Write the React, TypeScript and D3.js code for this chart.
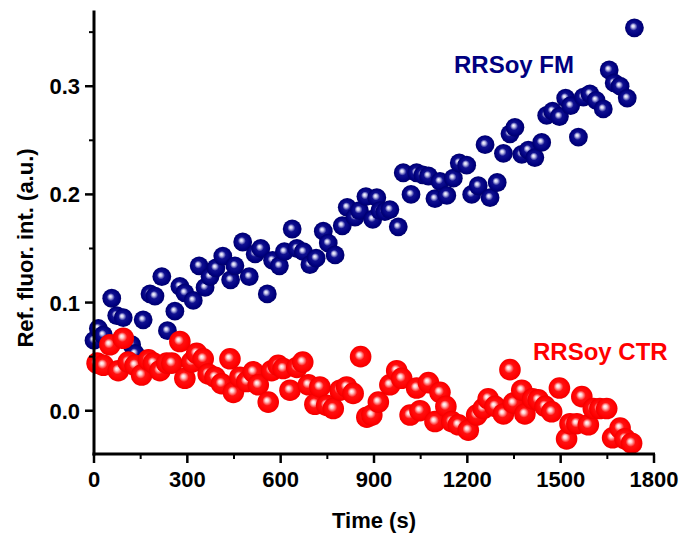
import React from "react";
import * as d3 from "d3";

const fmTime = [0, 14, 30, 57, 73, 94, 121, 132, 158, 180, 196, 218, 236, 260, 276, 292, 319, 338, 357, 373, 392, 414, 439, 453, 478, 499, 518, 536, 557, 574, 596, 612, 637, 652, 673, 694, 714, 737, 753, 775, 798, 814, 839, 853, 874, 896, 909, 919, 935, 951, 978, 994, 1019, 1037, 1057, 1075, 1096, 1112, 1134, 1155, 1174, 1198, 1214, 1235, 1257, 1273, 1296, 1316, 1337, 1353, 1375, 1396, 1417, 1439, 1455, 1474, 1496, 1516, 1532, 1557, 1573, 1594, 1614, 1637, 1656, 1672, 1691, 1714, 1737];
const fmValue = [0.065, 0.076, 0.070, 0.104, 0.088, 0.086, 0.061, 0.053, 0.084, 0.108, 0.106, 0.124, 0.074, 0.092, 0.115, 0.109, 0.102, 0.134, 0.114, 0.124, 0.132, 0.143, 0.121, 0.134, 0.156, 0.124, 0.145, 0.150, 0.108, 0.139, 0.134, 0.147, 0.168, 0.150, 0.147, 0.135, 0.141, 0.166, 0.155, 0.144, 0.171, 0.188, 0.179, 0.185, 0.198, 0.177, 0.197, 0.185, 0.184, 0.186, 0.170, 0.220, 0.200, 0.220, 0.218, 0.217, 0.196, 0.212, 0.199, 0.215, 0.229, 0.227, 0.200, 0.208, 0.246, 0.197, 0.211, 0.238, 0.256, 0.262, 0.237, 0.241, 0.234, 0.248, 0.273, 0.277, 0.272, 0.289, 0.282, 0.253, 0.290, 0.293, 0.287, 0.279, 0.315, 0.303, 0.300, 0.289, 0.354];

const ctrTime = [10, 30, 51, 78, 94, 110, 132, 153, 175, 191, 212, 234, 250, 276, 292, 314, 330, 351, 367, 389, 410, 437, 448, 469, 491, 512, 528, 560, 571, 592, 608, 630, 652, 671, 689, 710, 726, 748, 769, 791, 812, 833, 857, 877, 893, 914, 951, 973, 989, 1016, 1037, 1048, 1075, 1096, 1112, 1131, 1150, 1171, 1203, 1230, 1251, 1267, 1289, 1316, 1337, 1348, 1375, 1385, 1410, 1428, 1450, 1471, 1496, 1519, 1530, 1552, 1568, 1589, 1605, 1626, 1648, 1667, 1691, 1707, 1728];
const ctrValue = [0.044, 0.042, 0.061, 0.037, 0.067, 0.045, 0.042, 0.033, 0.047, 0.044, 0.037, 0.044, 0.044, 0.064, 0.030, 0.045, 0.053, 0.048, 0.034, 0.031, 0.025, 0.048, 0.017, 0.031, 0.027, 0.036, 0.024, 0.008, 0.037, 0.042, 0.039, 0.019, 0.040, 0.045, 0.024, 0.006, 0.022, 0.005, 0.002, 0.019, 0.022, 0.016, 0.050, -0.006, -0.004, 0.008, 0.024, 0.037, 0.030, -0.004, 0.021, 0.000, 0.026, -0.010, 0.017, 0.004, -0.010, -0.013, -0.018, -0.004, 0.002, 0.011, 0.004, -0.003, 0.038, 0.007, 0.019, -0.003, 0.011, 0.010, 0.004, -0.001, 0.021, -0.026, -0.012, -0.012, 0.013, -0.013, 0.002, 0.002, 0.002, -0.025, -0.016, -0.026, -0.030];

const xMajor = [0, 300, 600, 900, 1200, 1500, 1800];
const xMinor = [150, 450, 750, 1050, 1350, 1650];
const yMajor = [0.0, 0.1, 0.2, 0.3];
const yMinor = [0.05, 0.15, 0.25, 0.35];

const W = 683, H = 538;
const FONT = "'Liberation Sans', Arial, sans-serif";

export default function App() {
  const x = d3.scaleLinear().domain([0, 1800]).range([94, 654]);
  const y = d3.scaleLinear().domain([-0.04, 0.37]).range([454, 10.5]);
  const fmt = d3.format(".1f");
  const x0 = x(0), yb = y(-0.04);

  return (
    <svg width={W} height={H} style={{ position: "absolute", left: 0, top: 0, background: "#fff" }}>
      <defs>
        <radialGradient id="gBlue" cx="0.5" cy="0.5" r="0.5" fx="0.42" fy="0.4">
          <stop offset="0" stopColor="#ffffff" />
          <stop offset="0.16" stopColor="#c8c8ee" />
          <stop offset="0.42" stopColor="#101090" />
          <stop offset="0.8" stopColor="#000080" />
          <stop offset="1" stopColor="#00006a" />
        </radialGradient>
        <radialGradient id="gRed" cx="0.5" cy="0.5" r="0.5" fx="0.42" fy="0.4">
          <stop offset="0" stopColor="#ffffff" />
          <stop offset="0.16" stopColor="#ffd0d0" />
          <stop offset="0.45" stopColor="#ff1010" />
          <stop offset="0.85" stopColor="#ff0000" />
          <stop offset="1" stopColor="#ee0000" />
        </radialGradient>
      </defs>

      {fmTime.map((t, i) => (
        <circle key={"b" + i} cx={x(t)} cy={y(fmValue[i])} r={9.4} fill="url(#gBlue)" />
      ))}
      {ctrTime.map((t, i) => (
        <circle key={"r" + i} cx={x(t)} cy={y(ctrValue[i])} r={10.8} fill="url(#gRed)" />
      ))}

      {/* axes */}
      <line x1={x0} x2={x0} y1={y(0.37)} y2={yb + 1.5} stroke="#000" strokeWidth={3} />
      <line x1={x0 - 1.5} x2={x(1800) + 1} y1={yb} y2={yb} stroke="#000" strokeWidth={3} />

      {xMajor.map((t) => (
        <g key={"xt" + t}>
          <line x1={x(t)} x2={x(t)} y1={yb} y2={yb + 9} stroke="#000" strokeWidth={2.5} />
          <text x={x(t)} y={yb + 33} textAnchor="middle" fontFamily={FONT} fontWeight="bold" fontSize={22}>{t}</text>
        </g>
      ))}
      {xMinor.map((t) => (
        <line key={"xm" + t} x1={x(t)} x2={x(t)} y1={yb} y2={yb + 5} stroke="#000" strokeWidth={2} />
      ))}
      {yMajor.map((v) => (
        <g key={"yt" + v}>
          <line x1={x0} x2={x0 - 9} y1={y(v)} y2={y(v)} stroke="#000" strokeWidth={2.5} />
          <text x={x0 - 14} y={y(v) + 8} textAnchor="end" fontFamily={FONT} fontWeight="bold" fontSize={22}>{fmt(v)}</text>
        </g>
      ))}
      {yMinor.map((v) => (
        <line key={"ym" + v} x1={x0} x2={x0 - 5} y1={y(v)} y2={y(v)} stroke="#000" strokeWidth={2} />
      ))}

      <text x={374} y={528} textAnchor="middle" fontFamily={FONT} fontWeight="bold" fontSize={22}>Time (s)</text>
      <text transform={`translate(33,248) rotate(-90)`} textAnchor="middle" fontFamily={FONT} fontWeight="bold" fontSize={22}>Ref. fluor. int. (a.u.)</text>

      <text x={454} y={73} fontFamily={FONT} fontWeight="bold" fontSize={24} fill="#000080">RRSoy FM</text>
      <text x={533} y={360} fontFamily={FONT} fontWeight="bold" fontSize={24} fill="#ff0000">RRSoy CTR</text>
    </svg>
  );
}
